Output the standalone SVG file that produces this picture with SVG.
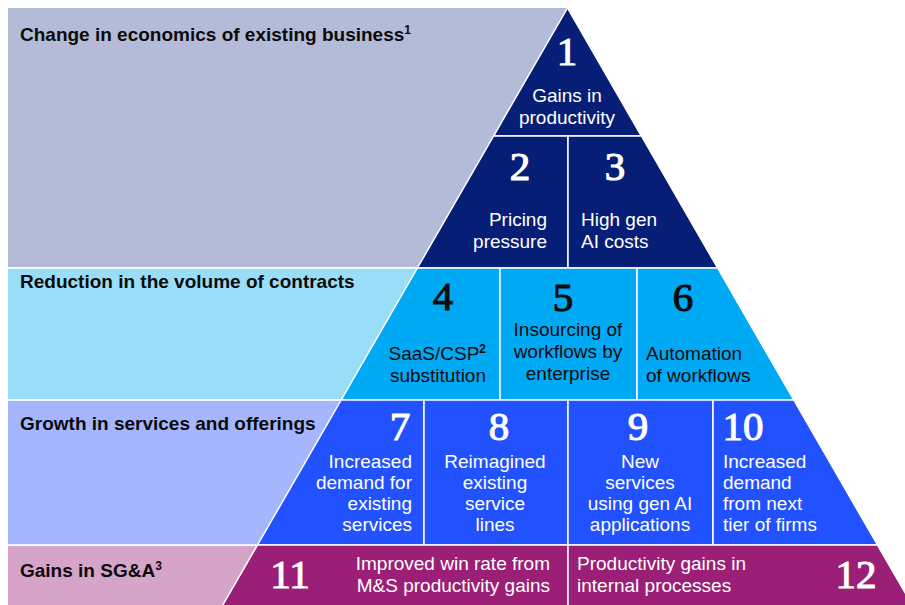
<svg xmlns="http://www.w3.org/2000/svg" width="905" height="605" viewBox="0 0 905 605">
  <style>
    .band-label { font-family: "Liberation Sans", Arial, sans-serif; font-weight: bold; font-size: 19px; fill: #0b0b0b; }
    .num { font-family: "Liberation Serif", "Times New Roman", serif; font-size: 41px; text-anchor: middle; stroke-width: 1.1; }
    .txt { font-family: "Liberation Sans", Arial, sans-serif; font-size: 19px; }
    .light { fill: #ffffff; }
    .dark { fill: #0b0b0b; }
    .num.light { stroke: #ffffff; }
    .num.dark { stroke: #0b0b0b; }
    .cell { stroke: #ffffff; stroke-width: 1.5; stroke-linejoin: miter; }
    .navy { fill: #071e76; }
    .sky { fill: #00a9f4; }
    .blue { fill: #2251ff; }
    .plum { fill: #9b1f76; }
    .mid { text-anchor: middle; }
    .end { text-anchor: end; }
  </style>

  <rect width="905" height="605" fill="#ffffff"/>

  <!-- Left-hand category bands (pyramid is drawn over their right part) -->
  <g id="band-economics">
    <rect x="8" y="8" width="560" height="259" fill="#b3bbd8"/>
    <text class="band-label" x="20" y="41">Change in economics of existing business<tspan font-size="12" dy="-7">1</tspan></text>
  </g>
  <g id="band-contracts">
    <rect x="8" y="268.5" width="560" height="131" fill="#99ddf9"/>
    <text class="band-label" x="20" y="288">Reduction in the volume of contracts</text>
  </g>
  <g id="band-growth">
    <rect x="8" y="400.5" width="560" height="144" fill="#a6b6fe"/>
    <text class="band-label" x="20" y="430">Growth in services and offerings</text>
  </g>
  <g id="band-sga">
    <rect x="8" y="546" width="560" height="59" fill="#d6a4c8"/>
    <text class="band-label" x="20" y="577">Gains in SG&amp;A<tspan font-size="12" dy="-7">3</tspan></text>
  </g>

  <!-- Pyramid cells -->
  <g id="cell-1">
    <polygon class="cell navy" points="567.5,8 641.4,136 493.6,136"/>
    <text class="num light" x="567" y="65">1</text>
    <text class="txt light mid" x="567" y="102">Gains in</text>
    <text class="txt light mid" x="567" y="124">productivity</text>
  </g>
  <g id="cell-2">
    <polygon class="cell navy" points="493.6,136 568,136 568,268 417.4,268"/>
    <text class="num light" x="520" y="180">2</text>
    <text class="txt light end" x="547" y="226">Pricing</text>
    <text class="txt light end" x="547" y="248">pressure</text>
  </g>
  <g id="cell-3">
    <polygon class="cell navy" points="568,136 641.4,136 717.6,268 568,268"/>
    <text class="num light" x="615" y="180">3</text>
    <text class="txt light" x="581" y="226">High gen</text>
    <text class="txt light" x="581" y="248">AI costs</text>
  </g>

  <g id="cell-4">
    <polygon class="cell sky" points="417.4,268 500,268 500,400 341.2,400"/>
    <text class="num dark" x="443" y="310">4</text>
    <text class="txt dark end" x="486" y="360">SaaS/CSP<tspan font-size="12" font-weight="bold" dy="-7">2</tspan></text>
    <text class="txt dark end" x="486" y="382">substitution</text>
  </g>
  <g id="cell-5">
    <polygon class="cell sky" points="500,268 637,268 637,400 500,400"/>
    <text class="num dark" x="563" y="311">5</text>
    <text class="txt dark mid" x="568" y="336">Insourcing of</text>
    <text class="txt dark mid" x="568" y="358">workflows by</text>
    <text class="txt dark mid" x="568" y="380">enterprise</text>
  </g>
  <g id="cell-6">
    <polygon class="cell sky" points="637,268 717.6,268 793.8,400 637,400"/>
    <text class="num dark" x="683" y="311">6</text>
    <text class="txt dark" x="646" y="360">Automation</text>
    <text class="txt dark" x="646" y="382">of workflows</text>
  </g>

  <g id="cell-7">
    <polygon class="cell blue" points="341.2,400 424,400 424,545 257.5,545"/>
    <text class="num light" x="400" y="440">7</text>
    <text class="txt light end" x="412" y="468">Increased</text>
    <text class="txt light end" x="412" y="489">demand for</text>
    <text class="txt light end" x="412" y="510">existing</text>
    <text class="txt light end" x="412" y="531">services</text>
  </g>
  <g id="cell-8">
    <polygon class="cell blue" points="424,400 568,400 568,545 424,545"/>
    <text class="num light" x="499" y="440">8</text>
    <text class="txt light mid" x="495" y="468">Reimagined</text>
    <text class="txt light mid" x="495" y="489">existing</text>
    <text class="txt light mid" x="495" y="510">service</text>
    <text class="txt light mid" x="495" y="531">lines</text>
  </g>
  <g id="cell-9">
    <polygon class="cell blue" points="568,400 713,400 713,545 568,545"/>
    <text class="num light" x="638" y="440">9</text>
    <text class="txt light mid" x="640" y="468">New</text>
    <text class="txt light mid" x="640" y="489">services</text>
    <text class="txt light mid" x="640" y="510">using gen AI</text>
    <text class="txt light mid" x="640" y="531">applications</text>
  </g>
  <g id="cell-10">
    <polygon class="cell blue" points="713,400 793.8,400 877.5,545 713,545"/>
    <text class="num light" x="743" y="440">10</text>
    <text class="txt light" x="723" y="468">Increased</text>
    <text class="txt light" x="723" y="489">demand</text>
    <text class="txt light" x="723" y="510">from next</text>
    <text class="txt light" x="723" y="531">tier of firms</text>
  </g>

  <g id="cell-11">
    <polygon class="cell plum" points="257.5,545 568,545 568,606 222.2,606"/>
    <text class="num light" x="290" y="588">11</text>
    <text class="txt light end" x="550" y="570">Improved win rate from</text>
    <text class="txt light end" x="550" y="592">M&amp;S productivity gains</text>
  </g>
  <g id="cell-12">
    <polygon class="cell plum" points="568,545 877.5,545 912.8,606 568,606"/>
    <text class="num light" x="856" y="588">12</text>
    <text class="txt light" x="577" y="570">Productivity gains in</text>
    <text class="txt light" x="577" y="592">internal processes</text>
  </g>

  <!-- Thin white rules separating the left-hand bands -->
  <g id="connectors" stroke="#ffffff" stroke-width="1.5">
    <line x1="8" y1="267.8" x2="420" y2="267.8"/>
    <line x1="8" y1="400" x2="342" y2="400"/>
    <line x1="8" y1="545.3" x2="258" y2="545.3"/>
  </g>
</svg>
